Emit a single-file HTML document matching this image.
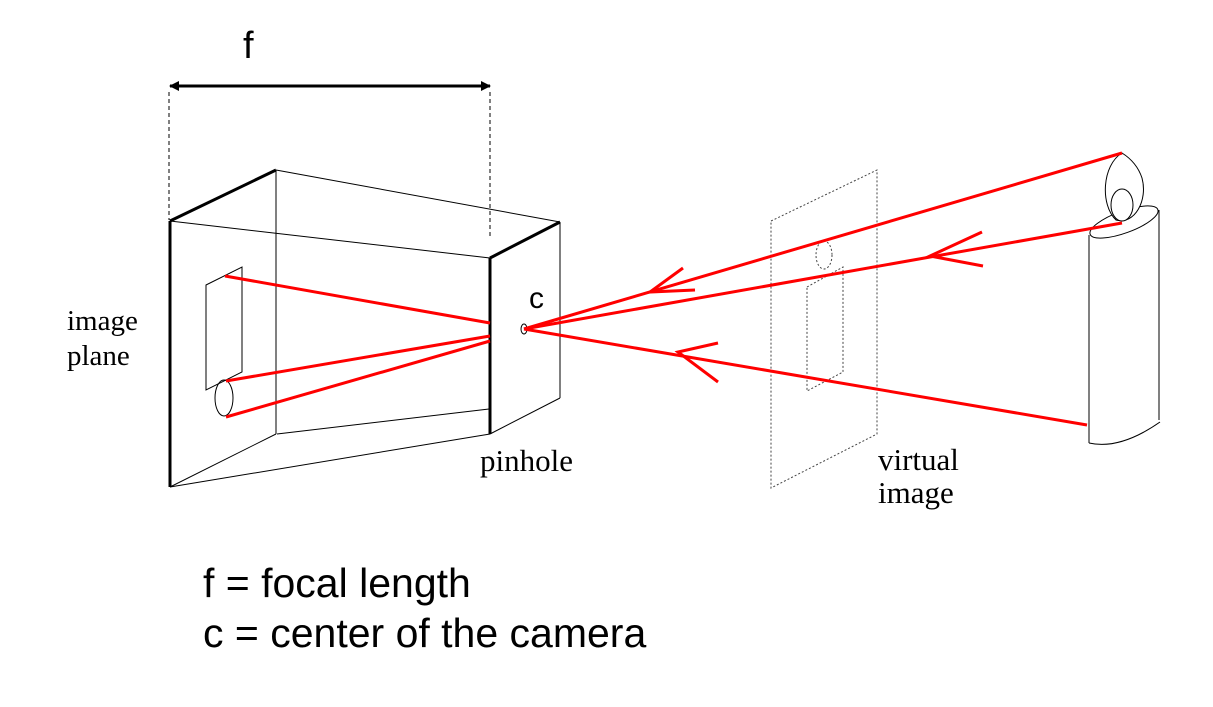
<!DOCTYPE html>
<html><head><meta charset="utf-8"><style>
html,body{margin:0;padding:0;background:#fff;}
svg{display:block;}
.serif{font-family:"Liberation Serif",serif;}
.sans{font-family:"Liberation Sans",sans-serif;}
</style></head><body>
<svg width="1213" height="707" viewBox="0 0 1213 707">
<defs><marker id="ah" markerWidth="10" markerHeight="10" refX="9" refY="5" orient="auto" markerUnits="userSpaceOnUse"><path d="M0,0 L10,5 L0,10 z" fill="#000"/></marker>
<marker id="ah2" markerWidth="10" markerHeight="10" refX="1" refY="5" orient="auto" markerUnits="userSpaceOnUse"><path d="M10,0 L0,5 L10,10 z" fill="#000"/></marker></defs>
<g>
<text x="243" y="58" class="sans" font-size="38">f</text>
<line x1="170" y1="86" x2="490" y2="86" stroke="#000" stroke-width="3" marker-start="url(#ah2)" marker-end="url(#ah)"/>
<line x1="169" y1="92" x2="169" y2="220" stroke="#000" stroke-width="1" stroke-dasharray="4,3"/>
<line x1="490" y1="92" x2="490" y2="238" stroke="#000" stroke-width="1" stroke-dasharray="4,3"/>
</g>
<g fill="none" stroke="#000">
<line x1="276" y1="170" x2="276" y2="434" stroke-width="1"/>
<line x1="170" y1="221" x2="490" y2="258" stroke-width="1"/>
<line x1="276" y1="170" x2="560" y2="222" stroke-width="1"/>
<line x1="170" y1="487" x2="276" y2="434" stroke-width="1"/>
<line x1="277" y1="434" x2="489" y2="409" stroke-width="1"/>
<line x1="170" y1="487" x2="490" y2="434" stroke-width="1"/>
<line x1="490" y1="434" x2="560" y2="398" stroke-width="1"/>
<line x1="560" y1="222" x2="560" y2="398" stroke-width="1"/>
<line x1="170" y1="221" x2="276" y2="170" stroke-width="3"/>
<line x1="170" y1="221" x2="170" y2="487" stroke-width="3"/>
<line x1="490" y1="258" x2="560" y2="222" stroke-width="3"/>
<line x1="490" y1="258" x2="490" y2="434" stroke-width="3"/>
<polygon points="206,285 242,267 242,372 206,390" stroke-width="1"/>
<ellipse cx="224" cy="398" rx="9" ry="18" stroke-width="1"/>
<ellipse cx="524" cy="329" rx="3" ry="5" stroke-width="1"/>
</g>
<g fill="none" stroke="#444" stroke-width="1" stroke-dasharray="2,2">
<polygon points="771,221 877,170 877,434 771,488"/>
<polygon points="807,287 843,267 843,372 807,391"/>
<ellipse cx="824" cy="255" rx="8" ry="14"/>
</g>
<g fill="none" stroke="#000" stroke-width="1">
<line x1="1089" y1="235" x2="1089" y2="443"/>
<line x1="1159" y1="210" x2="1159" y2="420"/>
<ellipse cx="1124" cy="222" rx="36" ry="11" transform="rotate(-20 1124 222)" fill="#fff"/>
<path d="M1089,443 Q1120,450 1160,422"/>
<path d="M1122,153 C1102,165 1100,205 1116,220 C1135,225 1148,200 1142,178 C1138,166 1130,158 1122,153 z" fill="#fff"/>
<ellipse cx="1122" cy="205" rx="11" ry="16" fill="#fff"/>
</g>
<g stroke="#f00" stroke-width="3" fill="none">
<line x1="225" y1="276" x2="490" y2="323"/>
<line x1="226" y1="381" x2="490" y2="336"/>
<line x1="226" y1="417" x2="490" y2="341"/>
<line x1="524" y1="329" x2="1122" y2="153"/>
<line x1="524" y1="329" x2="1122" y2="223"/>
<line x1="524" y1="329" x2="1087" y2="425"/>
<polyline points="683,268 650,292 695,290"/>
<polyline points="982,232 930,256 983,266"/>
<polyline points="718,343 678,352 718,382"/>
</g>
<text x="529" y="308" class="sans" font-size="30">c</text>
<text x="67" y="330" class="serif" font-size="29">image</text>
<text x="67" y="365" class="serif" font-size="29">plane</text>
<text x="480" y="471" class="serif" font-size="31">pinhole</text>
<text x="878" y="470" class="serif" font-size="31">virtual</text>
<text x="878" y="503" class="serif" font-size="31">image</text>
<text x="203" y="597" class="sans" font-size="41">f = focal length</text>
<text x="203" y="647" class="sans" font-size="41">c = center of the camera</text>
</svg>
</body></html>
